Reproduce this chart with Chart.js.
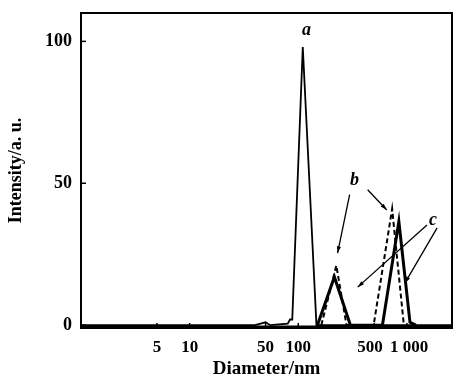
<!DOCTYPE html>
<html>
<head>
<meta charset="utf-8">
<script src="https://cdn.jsdelivr.net/npm/chart.js@4/dist/chart.umd.min.js"></script>
<style>
  html, body { margin: 0; padding: 0; background: #fff; }
  #wrap { width: 456px; height: 380px; }
</style>
</head>
<body>
<div id="wrap"><canvas id="c"></canvas></div>
<script>
// tick values
var xTicks = [5, 10, 50, 100, 500, 1000];
var xTickText = ['5', '10', '50', '100', '500  ', ' 1 000'];
var yTicks = [0, 50, 100];

// curve a (thin solid)
var aX = [1, 40, 50, 55, 80, 84, 88, 110, 147, 160, 2600];
var aY = [0, 0, 1, 0, 0.5, 2, 2, 98, 0, 0, 0];

// curve b (dashed)
var bX = [163, 224, 278, 494, 731, 937];
var bY = [0, 21, 0, 0, 41, 0];

// curve c (thick solid)
var cX = [150, 215, 302, 595, 843, 1067, 1210];
var cY = [0, 17, 0, 0, 36.5, 1, 0];

// annotations: text labels and arrows in data units
var labelText = ['a', 'b', 'c'];
var labelX = [119, 330, 1740];
var labelY = [104, 51, 37];
var arrowFromX = [297, 435, 1530, 1897];
var arrowFromY = [46, 47.7, 35.3, 34.3];
var arrowToX = [230, 653, 352, 957];
var arrowToY = [25.4, 40.6, 13.4, 14.8];

function pts(xs, ys) {
    return xs.map(function(x, i) { return { x: x, y: ys[i] }; });
}

var serif = 'Liberation Serif, DejaVu Serif, serif';

var framePlugin = {
    id: 'frame',
    afterDraw: function(chart) {
        var ctx = chart.ctx, a = chart.chartArea;
        var xs = chart.scales.x, ys = chart.scales.y;
        ctx.save();
        ctx.strokeStyle = '#000';
        ctx.lineWidth = 2;
        ctx.strokeRect(a.left, a.top, a.right - a.left, a.bottom - a.top);
        ctx.lineWidth = 3;
        ctx.beginPath();
        ctx.moveTo(a.left, a.bottom - 1);
        ctx.lineTo(a.right, a.bottom - 1);
        ctx.stroke();
        // inward tick marks
        ctx.lineWidth = 1.5;
        yTicks.forEach(function(v) {
            var py = ys.getPixelForValue(v);
            ctx.beginPath();
            ctx.moveTo(a.left, py);
            ctx.lineTo(a.left + 5, py);
            ctx.stroke();
        });
        xTicks.forEach(function(v) {
            var px = xs.getPixelForValue(v);
            ctx.beginPath();
            ctx.moveTo(px, a.bottom);
            ctx.lineTo(px, a.bottom - 5);
            ctx.stroke();
        });
        // labels
        ctx.fillStyle = '#000';
        ctx.font = 'italic bold 18px ' + serif;
        ctx.textAlign = 'center';
        ctx.textBaseline = 'middle';
        labelText.forEach(function(t, i) {
            ctx.fillText(t, xs.getPixelForValue(labelX[i]), ys.getPixelForValue(labelY[i]));
        });
        // arrows
        ctx.lineWidth = 1.3;
        arrowFromX.forEach(function(fx, i) {
            var x1 = xs.getPixelForValue(fx), y1 = ys.getPixelForValue(arrowFromY[i]);
            var x2 = xs.getPixelForValue(arrowToX[i]), y2 = ys.getPixelForValue(arrowToY[i]);
            ctx.beginPath();
            ctx.moveTo(x1, y1);
            ctx.lineTo(x2, y2);
            ctx.stroke();
            var ang = Math.atan2(y2 - y1, x2 - x1);
            ctx.beginPath();
            ctx.moveTo(x2, y2);
            ctx.lineTo(x2 - 7 * Math.cos(ang - 0.3), y2 - 7 * Math.sin(ang - 0.3));
            ctx.lineTo(x2 - 7 * Math.cos(ang + 0.3), y2 - 7 * Math.sin(ang + 0.3));
            ctx.closePath();
            ctx.fill();
        });
        ctx.restore();
    }
};

new Chart(document.getElementById('c'), {
    type: 'line',
    data: {
        datasets: [
            {
                label: 'a',
                data: pts(aX, aY),
                borderColor: '#000',
                borderWidth: 1.8,
                pointRadius: 0,
                tension: 0
            },
            {
                label: 'b',
                data: pts(bX, bY),
                borderColor: '#000',
                borderWidth: 2,
                borderDash: [5, 3],
                pointRadius: 0,
                tension: 0
            },
            {
                label: 'c',
                data: pts(cX, cY),
                borderColor: '#000',
                borderWidth: 3,
                pointRadius: 0,
                tension: 0
            }
        ]
    },
    options: {
        responsive: true,
        maintainAspectRatio: false,
        animation: false,
        layout: { padding: { left: 0, top: 13, right: 4, bottom: 0 } },
        plugins: { legend: { display: false }, tooltip: { enabled: false } },
        scales: {
            x: {
                type: 'logarithmic',
                min: 1,
                max: 2600,
                afterBuildTicks: function(s) { s.ticks = xTicks.map(function(v) { return { value: v }; }); },
                afterFit: function(s) { s.height = 52; s.paddingLeft = 0; s.paddingRight = 0; },
                grid: { display: false, drawTicks: false },
                border: { display: false },
                ticks: {
                    color: '#000',
                    padding: 9,
                    maxRotation: 0,
                    autoSkip: false,
                    font: { family: serif, size: 17, weight: 'bold' },
                    callback: function(v) { return xTickText[xTicks.indexOf(v)]; }
                },
                title: {
                    display: true,
                    text: 'Diameter/nm',
                    color: '#000',
                    font: { family: serif, size: 19, weight: 'bold' },
                    padding: { top: 0, bottom: 0 }
                }
            },
            y: {
                min: -1,
                max: 110,
                afterBuildTicks: function(s) { s.ticks = yTicks.map(function(v) { return { value: v }; }); },
                afterFit: function(s) { s.width = 81; s.paddingTop = 0; s.paddingBottom = 0; },
                grid: { display: false, drawTicks: false },
                border: { display: false },
                ticks: {
                    color: '#000',
                    padding: 9,
                    font: { family: serif, size: 18, weight: 'bold' }
                },
                title: {
                    display: true,
                    text: 'Intensity/a. u.',
                    color: '#000',
                    font: { family: serif, size: 18, weight: 'bold' },
                    padding: { top: 6, bottom: 0 }
                }
            }
        }
    },
    plugins: [framePlugin]
});
</script>
</body>
</html>
